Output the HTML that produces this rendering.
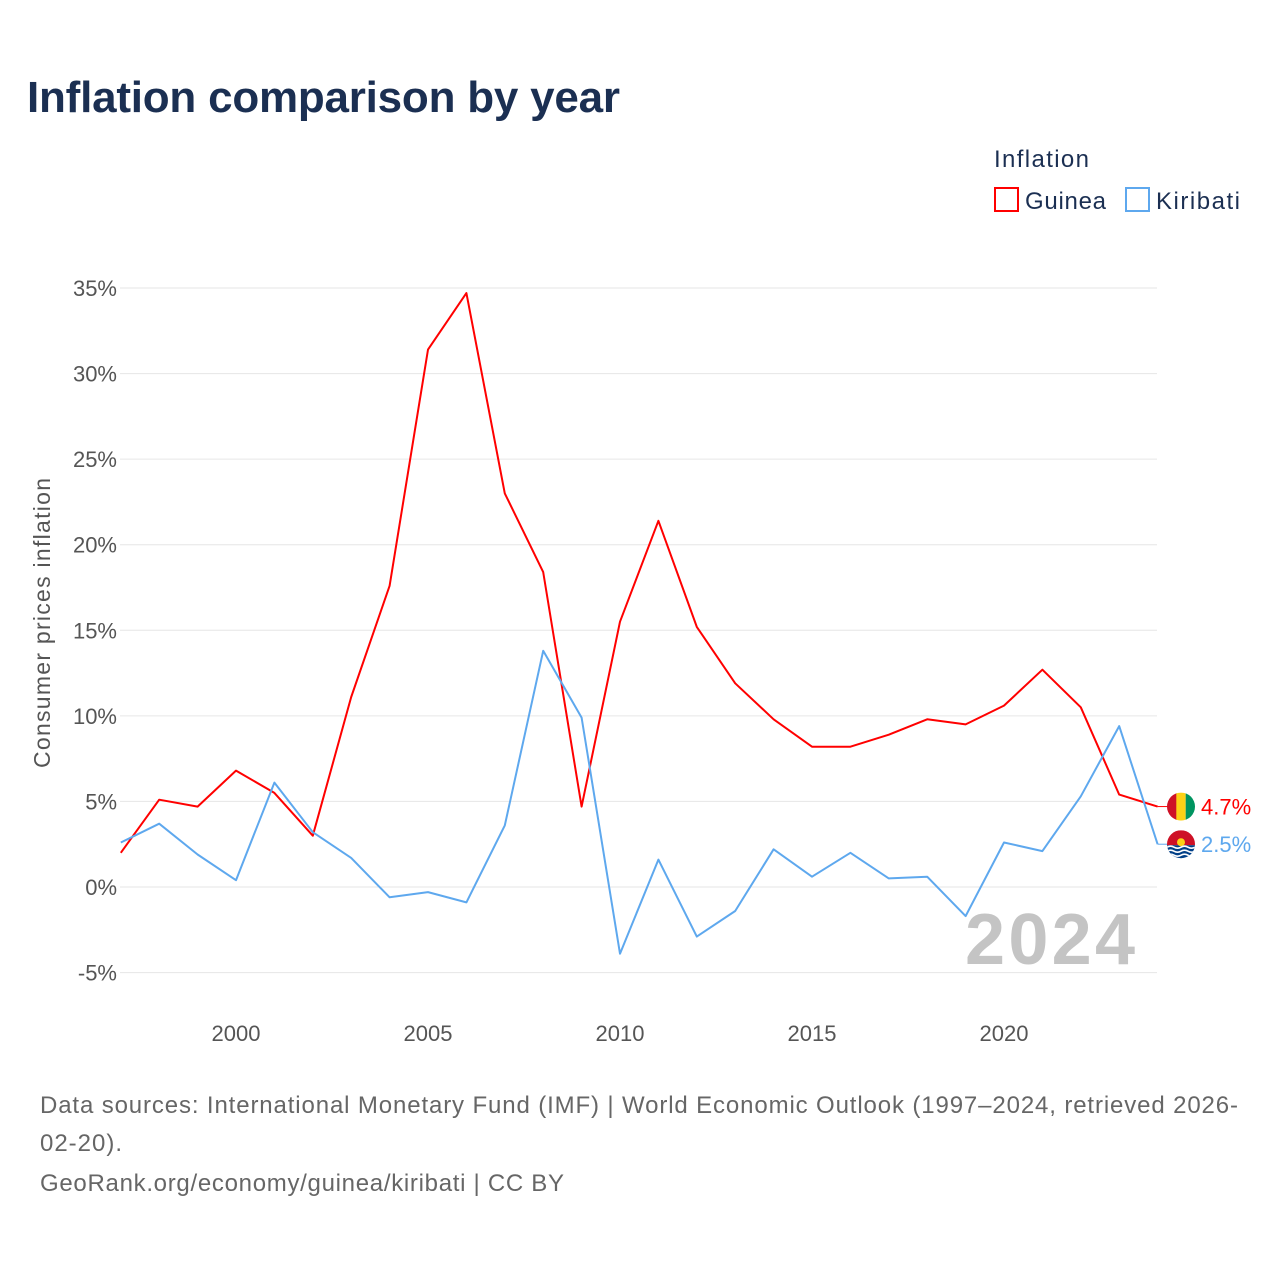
<!DOCTYPE html>
<html><head><meta charset="utf-8">
<style>
html,body{margin:0;padding:0;background:#fff;}
body{width:1280px;height:1280px;overflow:hidden;font-family:"Liberation Sans",sans-serif;}
svg text{font-family:"Liberation Sans",sans-serif;}
</style></head>
<body>
<svg id="chart" width="1280" height="1280" viewBox="0 0 1280 1280">
<text x="27" y="112" font-size="44" font-weight="bold" fill="#1b2f52" textLength="593">Inflation comparison by year</text>
<text x="994" y="167" font-size="24" fill="#1b2f52" textLength="95">Inflation</text>
<g>
<rect x="995" y="188" width="23" height="23" fill="none" stroke="#f00" stroke-width="2"/>
<text x="1025" y="209" font-size="24" fill="#1b2f52" textLength="81">Guinea</text></g>
<g>
<rect x="1126" y="188" width="23" height="23" fill="none" stroke="#5ea8ee" stroke-width="2"/>
<text x="1156" y="209" font-size="24" fill="#1b2f52" textLength="84">Kiribati</text></g>
<g id="grid"></g><g id="yticks"></g><g id="xticks"></g>
<text x="1135" y="964" font-size="72" font-weight="bold" fill="#c4c4c4" text-anchor="end" textLength="170">2024</text>
<g id="series"></g>
<text transform="translate(50,623) rotate(-90)" font-size="23" fill="#555" text-anchor="middle" textLength="290">Consumer prices inflation</text>
<text x="40" y="1113" font-size="24" fill="#666" textLength="1198">Data sources: International Monetary Fund (IMF) | World Economic Outlook (1997–2024, retrieved 2026-</text>
<text x="40" y="1151" font-size="24" fill="#666" textLength="82">02-20).</text>
<text x="40" y="1191" font-size="24" fill="#666" textLength="524">GeoRank.org/economy/guinea/kiribati | CC BY</text>
</svg>
<script>
const years=[1997,1998,1999,2000,2001,2002,2003,2004,2005,2006,2007,2008,2009,2010,2011,2012,2013,2014,2015,2016,2017,2018,2019,2020,2021,2022,2023,2024];
const guinea=[2.0,5.1,4.7,6.8,5.5,3.0,11.1,17.6,31.4,34.7,23.0,18.4,4.7,15.5,21.4,15.2,11.9,9.8,8.2,8.2,8.9,9.8,9.5,10.6,12.7,10.5,5.4,4.7];
const kiribati=[2.6,3.7,1.9,0.4,6.1,3.2,1.7,-0.6,-0.3,-0.9,3.6,13.8,9.9,-3.9,1.6,-2.9,-1.4,2.2,0.6,2.0,0.5,0.6,-1.7,2.6,2.1,5.3,9.4,2.5];
const yTicks=[-5,0,5,10,15,20,25,30,35];
const xTicks=[2000,2005,2010,2015,2020];
const NS="http://www.w3.org/2000/svg";
function xs(y){return 120.8+(y-1997)*38.4;}
function ys(v){return 887-v*17.114;}
function mk(t,a,p){const e=document.createElementNS(NS,t);for(const k in a)e.setAttribute(k,a[k]);p.appendChild(e);return e;}
const grid=document.getElementById('grid'),yt=document.getElementById('yticks'),xt=document.getElementById('xticks'),ser=document.getElementById('series');
yTicks.forEach(v=>{
 const l=mk('line',{x1:120,x2:1157,y1:ys(v),y2:ys(v),stroke:'#e6e6e6','stroke-width':1},grid);
 
 
 const t=mk('text',{x:117,y:ys(v)+8,'font-size':22,fill:'#555','text-anchor':'end'},yt);
 t.textContent=v+'%';
 
 
});
xTicks.forEach(v=>{
 const t=mk('text',{x:xs(v),y:1041,'font-size':22,fill:'#555','text-anchor':'middle'},xt);
 t.textContent=v;
 
 
});
function line(data,color,name){
 const d=data.map((v,i)=>(i?'L':'M')+xs(years[i]).toFixed(1)+' '+ys(v).toFixed(1)).join(' ');
 const p=mk('path',{d:d,fill:'none',stroke:color,'stroke-width':2,'stroke-linejoin':'round'},ser);
 
 
 const last=data[data.length-1];
 const ly=ys(last);
 const c=mk('line',{x1:xs(2024),x2:1168,y1:ly,y2:ly,stroke:color,'stroke-width':1},ser);
 
 
 const t=mk('text',{x:1201,y:ly+8,'font-size':22,fill:color},ser);
 t.textContent=last+'%';
 
 
 return ly;
}
const gy=line(guinea,'#ff0000','guinea');
const ky=line(kiribati,'#5ea8ee','kiribati');
const fg=mk('g',{},ser);


mk('clipPath',{id:'cg'},fg).appendChild(document.createElementNS(NS,'circle')).setAttribute('r','14');
const gg=mk('g',{transform:`translate(1181,${gy})`,'clip-path':'url(#cg)'},fg);
mk('rect',{x:-14,y:-14,width:10,height:28,fill:'#ce1126'},gg);
mk('rect',{x:-4.7,y:-14,width:9.4,height:28,fill:'#fcd116'},gg);
mk('rect',{x:4.7,y:-14,width:10,height:28,fill:'#009460'},gg);
const fk=mk('g',{},ser);


mk('clipPath',{id:'ck'},fk).appendChild(document.createElementNS(NS,'circle')).setAttribute('r','14');
const kg=mk('g',{transform:`translate(1181,${ky})`,'clip-path':'url(#ck)'},fk);
mk('rect',{x:-14,y:-14,width:28,height:15,fill:'#ce1126'},kg);
mk('rect',{x:-14,y:1,width:28,height:14,fill:'#003f87'},kg);
mk('circle',{cx:0,cy:-2,r:4,fill:'#fcd116'},kg);
[3,7,11].forEach(o=>mk('path',{d:`M-14 ${o} q3.5 -2 7 0 t7 0 t7 0 t7 0`,stroke:'#fff','stroke-width':1.6,fill:'none'},kg));
</script>
</body></html>
